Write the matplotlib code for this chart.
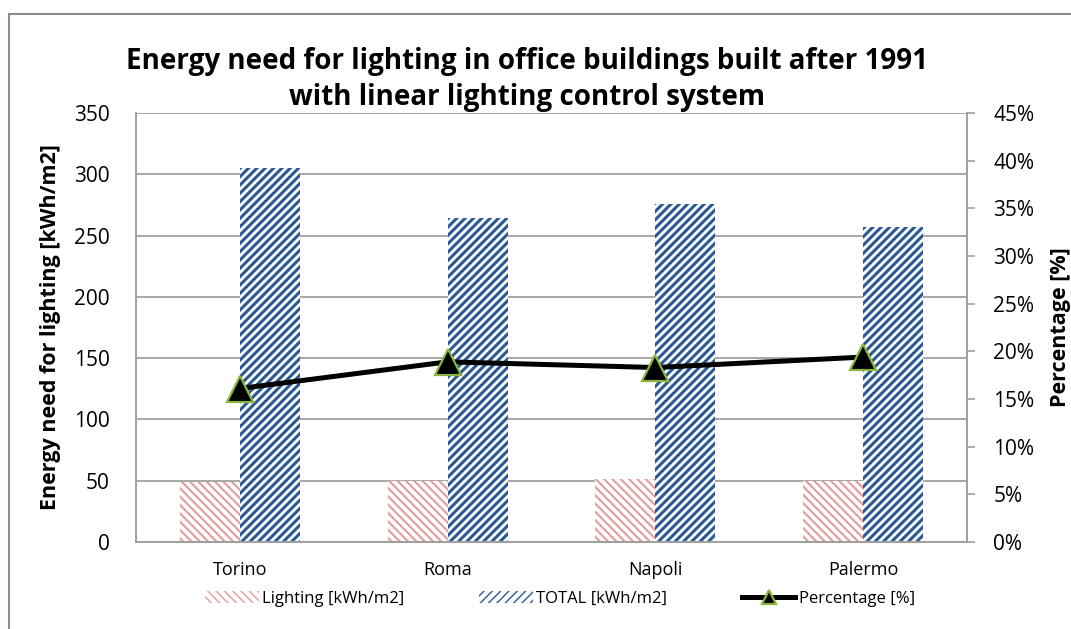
import matplotlib
matplotlib.use('Agg')
import matplotlib.pyplot as plt
import numpy as np
from matplotlib.patches import Rectangle

plt.rcParams['font.family'] = ['Open Sans', 'DejaVu Sans']

# data
cities = ['Torino', 'Roma', 'Napoli', 'Palermo']
lighting = [49, 50, 51, 50]          # kWh/m2
total = [305, 264, 276, 257]         # kWh/m2
percentage = [16.1, 18.9, 18.3, 19.4]  # %

W, H = 1071, 629
fig = plt.figure(figsize=(W / 100, H / 100), dpi=100)

# outer chart border (Excel style)
fig.add_artist(Rectangle((9 / W, -0.05), 1.2, 1 - 14 / H + 0.05, transform=fig.transFigure,
                         fill=False, edgecolor='#8c8c8c', linewidth=1.5))

ax = fig.add_axes([136 / W, 1 - 542 / H, (967 - 136) / W, (542 - 113) / H])
ax2 = ax.twinx()

x = np.arange(len(cities))
bw = 0.289
grey = '#a0a0a0'

b1 = ax.bar(x - bw / 2, lighting, bw, color='white', edgecolor='#e39a9a', linewidth=0,
            hatch='\\\\\\\\', hatch_linewidth=1.5, label='Lighting [kWh/m2]', zorder=2)
b2 = ax.bar(x + bw / 2, total, bw, color='white', edgecolor='#2a5a94', linewidth=0,
            hatch='////', hatch_linewidth=2.2, label='TOTAL [kWh/m2]', zorder=2)

ax.set_xlim(-0.5, len(cities) - 0.5)
ax.set_ylim(0, 350)
ax.set_yticks(range(0, 351, 50))
ax.yaxis.grid(True, color=grey, linewidth=1.3)
ax.set_axisbelow(True)
ax.set_xticks(x)
ax.set_xticklabels(cities, fontsize=13)
ax.tick_params(axis='x', length=0, pad=14)
ax.tick_params(axis='y', length=0, pad=19, labelsize=15)
ax.set_ylabel('Energy need for lighting [kWh/m2]', fontsize=15.5, fontweight='bold', labelpad=9)

ln, = ax2.plot(x, percentage, color='black', linewidth=3.6, marker='^', markersize=19,
               markerfacecolor='black', markeredgecolor='#8ab43c', markeredgewidth=1.6,
               label='Percentage [%]', zorder=3)
ax2.set_ylim(0, 45)
ax2.set_yticks(range(0, 46, 5))
ax2.set_yticklabels([f'{v}%' for v in range(0, 46, 5)])
ax2.tick_params(axis='y', direction='out', length=6, width=1.2, color=grey, pad=13, labelsize=15)
ax2.set_ylabel('Percentage [%]', fontsize=15.5, fontweight='bold', labelpad=11)

for a in (ax, ax2):
    a.spines['top'].set_visible(False)
    for s in ('left', 'right', 'bottom'):
        a.spines[s].set_color(grey)
        a.spines[s].set_linewidth(1.3)

fig.text(527 / W, 1 - 61 / H, 'Energy need for lighting in office buildings built after 1991',
         ha='center', va='center', fontsize=20, fontweight='bold')
fig.text(527 / W, 1 - 98 / H, 'with linear lighting control system',
         ha='center', va='center', fontsize=20, fontweight='bold')

fig.legend(handles=[b1, b2, ln], loc='center', bbox_to_anchor=(560 / W, 1 - 599 / H), ncol=3,
           frameon=False, fontsize=12, handlelength=3.2, handletextpad=0.2, columnspacing=4.5,
           markerscale=0.55)

fig.savefig('out.png', dpi=100)
